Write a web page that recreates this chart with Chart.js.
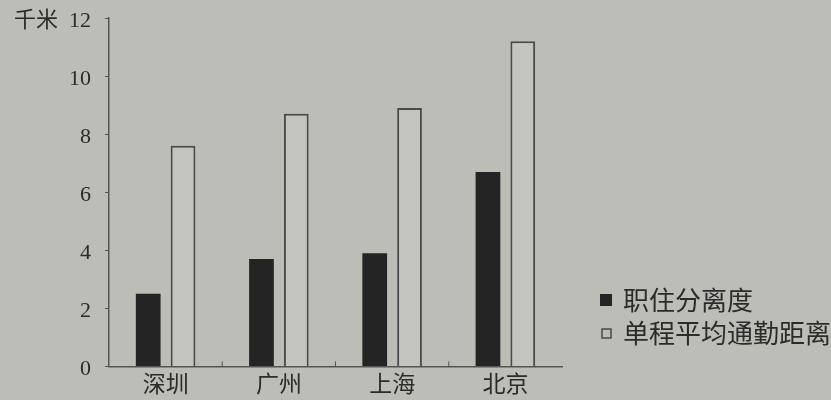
<!DOCTYPE html>
<html>
<head>
<meta charset="utf-8">
<title>职住分离度与单程平均通勤距离</title>
<script src="https://cdn.jsdelivr.net/npm/chart.js@4.4.1/dist/chart.umd.min.js"></script>
<style>
  html, body { margin: 0; padding: 0; background: #bcbdb6; }
  canvas { display: block; }
</style>
</head>
<body>
<canvas id="myChart" width="831" height="400"></canvas>
<script>
// data
var cities = ['深圳', '广州', '上海', '北京'];
var jobHousing = [2.5, 3.7, 3.9, 6.7];      // 职住分离度
var commuteKm = [7.6, 8.7, 8.9, 11.2];      // 单程平均通勤距离
var yTicks = [0, 2, 4, 6, 8, 10, 12];
var seriesNames = ['职住分离度', '单程平均通勤距离'];

var ink = '#2b2b2b';
var axisGrey = '#555555';

// legend drawn by hand so it can sit apart from the plot
var sideLegend = {
  id: 'sideLegend',
  afterDraw: function(chart) {
    var c = chart.ctx;
    var x = 600;
    var rows = [300, 333];
    c.save();
    c.font = '26px "Noto Sans CJK SC"';
    c.textBaseline = 'middle';
    chart.data.datasets.forEach(function(ds, i) {
      var y = rows[i];
      if (i === 0) {
        c.fillStyle = ds.backgroundColor;
        c.fillRect(x, y - 6, 12, 12);
      } else {
        c.strokeStyle = ds.borderColor;
        c.lineWidth = 1.5;
        c.strokeRect(x + 2, y - 4, 9, 9);
      }
      c.fillStyle = ink;
      c.fillText(ds.label, x + 23, y);
    });
    c.restore();
  }
};

// little upward ticks between the city groups
var groupTicks = {
  id: 'groupTicks',
  afterDraw: function(chart) {
    var xs = chart.scales.x;
    var c = chart.ctx;
    var bottom = chart.chartArea.bottom;
    c.save();
    c.strokeStyle = axisGrey;
    c.lineWidth = 1;
    for (var i = 1; i < cities.length; i++) {
      var px = (xs.getPixelForValue(i - 1) + xs.getPixelForValue(i)) / 2;
      c.beginPath();
      c.moveTo(px, bottom);
      c.lineTo(px, bottom - 5);
      c.stroke();
    }
    c.restore();
  }
};

const ctx = document.getElementById('myChart');

new Chart(ctx, {
  type: 'bar',
  data: {
    labels: cities,
    datasets: [{
      label: seriesNames[0],
      data: jobHousing,
      backgroundColor: '#242424',
      borderColor: '#242424',
      borderWidth: 0
    }, {
      label: seriesNames[1],
      data: commuteKm,
      backgroundColor: '#c3c4bd',
      borderColor: '#4a4a4a',
      borderWidth: 2,
      borderSkipped: 'bottom'
    }]
  },
  options: {
    responsive: false,
    animation: false,
    devicePixelRatio: 1,
    layout: {
      padding: { left: 0, right: 269, top: 18, bottom: 0 }
    },
    datasets: {
      bar: {
        categoryPercentage: 0.615,
        barPercentage: 0.71
      }
    },
    plugins: {
      legend: { display: false },
      tooltip: { enabled: false }
    },
    scales: {
      x: {
        grid: { display: false, drawTicks: false },
        border: { display: true, color: axisGrey, width: 1.5 },
        ticks: {
          color: ink,
          padding: 3,
          font: { family: '"Noto Sans CJK SC"', size: 23 }
        }
      },
      y: {
        min: 0,
        max: 12,
        afterBuildTicks: function(axis) {
          axis.ticks = yTicks.map(function(v) { return { value: v }; });
        },
        afterFit: function(axis) {
          axis.paddingTop = 0;
          axis.paddingBottom = 0;
        },
        grid: {
          drawOnChartArea: false,
          drawTicks: true,
          tickLength: 4,
          color: axisGrey
        },
        border: { display: true, color: axisGrey, width: 1.5 },
        ticks: {
          color: ink,
          padding: 14,
          labelOffset: 3,
          font: { family: '"Liberation Serif", "Noto Sans CJK SC"', size: 22 },
          callback: function(v) {
            return v === 12 ? '千米  12' : v;
          }
        }
      }
    }
  },
  plugins: [sideLegend, groupTicks]
});
</script>
</body>
</html>
